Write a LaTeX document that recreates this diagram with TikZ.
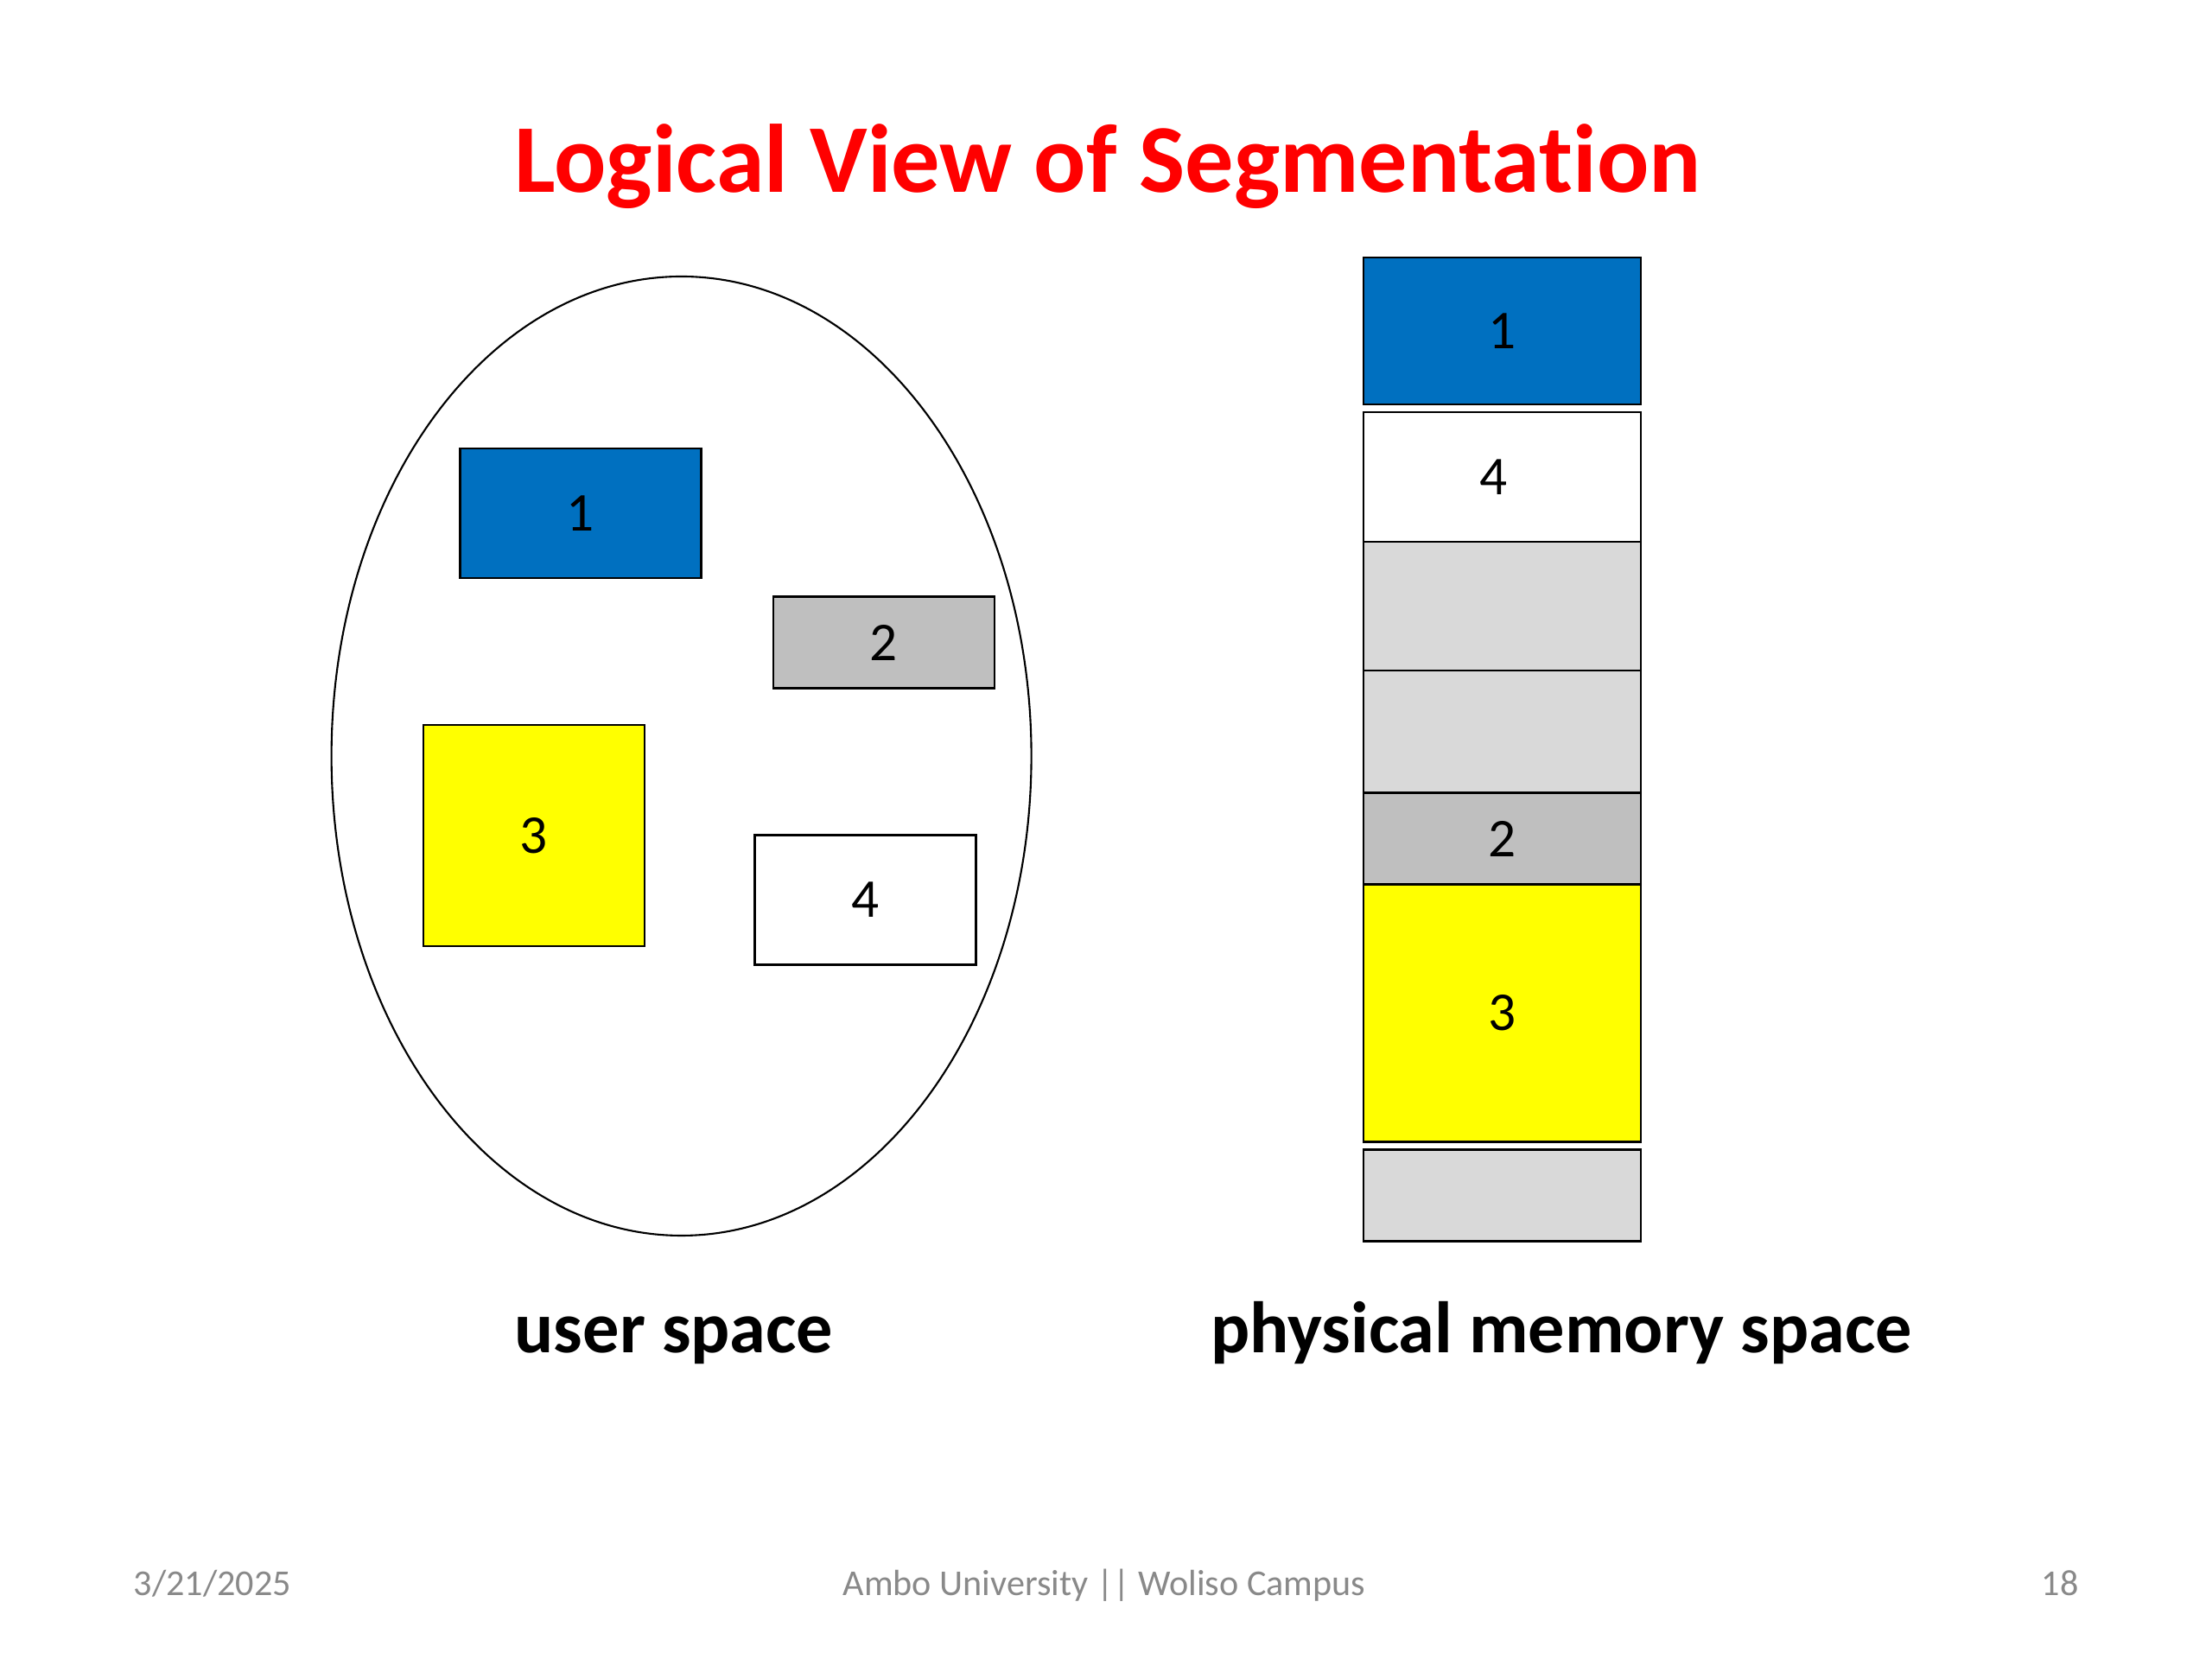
\documentclass[tikz,border=0pt]{standalone}
\usepackage{fontspec}
\setmainfont{Carlito}[Ligatures=NoCommon]
\usepackage{tikz}
\usetikzlibrary{shapes.geometric}

\begin{document}
\begin{tikzpicture}[
    seg/.style={draw, line width=0.8pt, font=\fontsize{18}{20}\selectfont, inner sep=0pt},
    label/.style={anchor=base, font=\bfseries\fontsize{24}{28}\selectfont},
    footer/.style={anchor=base, text=footgray, font=\fontsize{12}{14}\selectfont}
  ]
      % Define sizes
      \def\colwidth{3.21}

      % Define colors
      \definecolor{segblue}{RGB}{0,112,192}
      \definecolor{seggray}{RGB}{191,191,191}
      \definecolor{freegray}{RGB}{217,217,217}
      \definecolor{segyellow}{RGB}{255,255,0}
      \definecolor{titlered}{RGB}{255,0,0}
      \definecolor{footgray}{RGB}{137,137,137}

      \useasboundingbox (0,0) rectangle (25.6,19.2);

      % Title
      \node[anchor=base, text=titlered, font=\bfseries\fontsize{32}{38}\selectfont] (title) at (12.82,16.97) {Logical View of Segmentation};

      % User space
      \node[draw, line width=0.6pt, ellipse, minimum width=8.1cm, minimum height=11.1cm] (user) at (7.886,10.45) {};
      \node[seg, fill=segblue, minimum width=2.79cm, minimum height=1.50cm] (U1) at (6.717,13.26) {1};
      \node[seg, fill=seggray, minimum width=2.56cm, minimum height=1.06cm] (U2) at (10.229,11.763) {2};
      \node[seg, fill=segyellow, minimum width=2.56cm, minimum height=2.56cm] (U3) at (6.18,9.53) {3};
      \node[seg, fill=white, minimum width=2.56cm, minimum height=1.50cm] (U4) at (10.016,8.784) {4};

      % Physical memory
      \node[seg, fill=segblue, minimum width=\colwidth cm, minimum height=1.70cm] (P1) at (17.385,15.37) {1};
      \node[seg, fill=white, minimum width=\colwidth cm, minimum height=1.50cm] (P4) at (17.385,13.68) {\hspace*{-0.2cm}4};
      \node[seg, fill=freegray, minimum width=\colwidth cm, minimum height=1.49cm] (H1) at (17.385,12.185) {};
      \node[seg, fill=freegray, minimum width=\colwidth cm, minimum height=1.41cm] (H2) at (17.385,10.735) {};
      \node[seg, fill=seggray, minimum width=\colwidth cm, minimum height=1.06cm] (P2) at (17.385,9.495) {2};
      \node[seg, fill=segyellow, minimum width=\colwidth cm, minimum height=2.98cm] (P3) at (17.385,7.475) {3};
      \node[seg, fill=freegray, minimum width=\colwidth cm, minimum height=1.06cm] (H3) at (17.385,5.364) {};

      % Labels
      \node[label] (userlbl) at (7.80,3.54) {user space};
      \node[label] (physlbl) at (18.07,3.54) {physical memory space};

      % Footer
      \node[footer] (date) at (2.46,0.735) {3/21/2025};
      \node[footer] (place) at (12.78,0.735) {Ambo University || Woliso Campus};
      \node[footer] (page) at (23.84,0.735) {18};

    \end{tikzpicture}
\end{document}
